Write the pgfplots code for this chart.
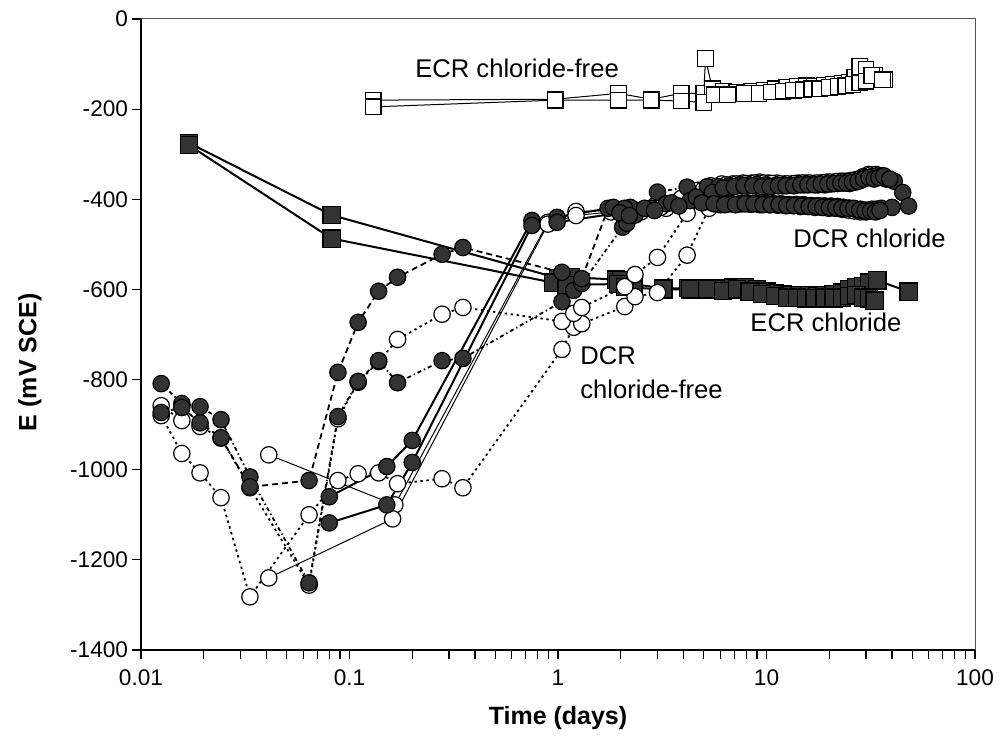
\documentclass[border=0pt]{standalone}
\usepackage{fontspec}
\setmainfont{Liberation Sans}
\usepackage{pgfplots}
\pgfplotsset{compat=1.18}
\definecolor{fillgray}{HTML}{333333}
\definecolor{framegray}{HTML}{555555}

\pgfplotsset{
  fcirc/.style={mark=*, mark size=4.1pt, mark options={fill=fillgray, draw=black, line width=0.6pt, solid}},
  ocirc/.style={mark=*, mark size=4.1pt, mark options={fill=white, draw=black, line width=0.6pt, solid}},
  fsq/.style={mark=square*, mark size=4.3pt, mark options={fill=fillgray, draw=black, line width=0.6pt, solid}},
  osq/.style={mark=square*, mark size=3.9pt, mark options={fill=white, draw=black, line width=0.6pt, solid}},
}

\begin{document}
\begin{tikzpicture}
\useasboundingbox (-70.5pt,-50.5pt) rectangle (432pt,325pt);
\begin{axis}[
  at={(0pt,0pt)}, anchor=south west,
  scale only axis, width=417pt, height=315.5pt,
  xmode=log, xmin=0.01, xmax=100, ymin=-1400, ymax=0,
  axis x line*=bottom, axis y line*=left,
  axis line style={-, black, line width=0.7pt},
  clip=false,
  tick align=outside,
  major tick length=4.5pt, minor tick length=4.5pt,
  tick style={black, line width=0.6pt},
  xtick={0.01,0.1,1,10,100},
  xticklabels={0.01,0.1,1,10,100},
  ytick={-1400,-1200,-1000,-800,-600,-400,-200,0},
  yticklabels={-1400,-1200,-1000,-800,-600,-400,-200,0},
  ticklabel style={font=\fontsize{11.3}{13}\selectfont},
  xticklabel style={yshift=-2pt},
  yticklabel style={xshift=1.5pt},
  xlabel={Time (days)},
  ylabel={E (mV SCE)},
  xlabel style={font=\bfseries\fontsize{12.5}{14}\selectfont, at={(axis description cs:0.5,-0.1078)}, anchor=center},
  ylabel style={font=\bfseries\fontsize{12.5}{14}\selectfont, at={(axis description cs:-0.1331,0.456)}, anchor=center},
]
\draw[framegray, line width=0.5pt] (rel axis cs:0,1) -- (rel axis cs:1,1) -- (rel axis cs:1,0);

% ECR chloride-free (open squares, thin solid)
\addplot[black, line width=0.5pt, osq] coordinates {
(0.13,-180) (0.97,-178) (1.95,-165) (2.8,-178) (3.9,-165) (5.0,-165) (5.1,-88) (5.5,-155) (6.2,-160) (7.2,-162) (8.5,-160) (9.8,-158) (11,-155) (12.5,-152) (14,-150) (15.5,-148) (17,-150) (19,-147) (21,-145) (23,-143) (25,-140) (26.5,-130) (28,-105) (30,-112) (33,-125) (37,-135)
};
\addplot[black, line width=0.5pt, osq] coordinates {
(0.13,-195) (0.97,-180) (1.95,-180) (2.8,-180) (3.9,-182) (5.0,-185) (5.6,-168) (6.5,-168) (7.8,-165) (9.2,-165) (10.5,-162) (12,-160) (13.5,-158) (15,-157) (16.5,-155) (18,-155) (20,-152) (22,-150) (24,-148) (26,-145) (28,-142) (30,-138) (32,-125) (36,-135)
};

% ECR chloride (filled squares, thick solid)
\addplot[black, line width=1pt, fsq] coordinates {
(0.017,-275) (0.082,-435) (1.0,-575) (1.15,-573) (1.9,-578) (2.0,-580) (2.3,-588) (3.2,-598) (4.2,-597) (5.0,-598) (5.9,-598) (6.9,-596) (7.9,-595) (9.0,-600) (10,-605) (11,-608) (12,-610) (13,-612) (14.5,-612) (16,-612) (17.5,-614) (19,-612) (21,-610) (23,-607) (25,-600) (27,-595) (29,-592) (31,-585) (34,-580) (48,-605)
};
\addplot[black, line width=1pt, fsq] coordinates {
(0.017,-280) (0.082,-487) (0.95,-585) (1.1,-590) (1.95,-588) (2.1,-595) (3.2,-600) (4.3,-600) (5.2,-600) (6.2,-603) (7.2,-600) (8.3,-605) (9.5,-610) (11,-615) (12.5,-618) (14,-618) (15.5,-620) (17,-620) (19,-618) (21,-620) (23,-618) (25,-615) (27,-612) (29,-618) (31,-620) (33,-625)
};

% open circles, thin solid
\addplot[black, line width=0.5pt, ocirc] coordinates {
(0.041,-967) (0.165,-1078) (0.895,-451) (1.22,-427) (1.9,-425) (2.5,-428) (3.3,-420) (4.2,-410) (5.0,-405) (5.7,-400) (6.5,-405) (7.3,-405) (8.1,-408) (8.9,-408) (9.8,-408) (10.7,-410) (11.7,-410) (12.7,-412) (13.8,-412) (15,-412) (16.2,-414) (17.5,-415) (18.9,-415) (20.3,-416) (21.8,-418) (23.3,-418) (24.9,-420) (26.5,-422) (28.2,-422) (30,-424) (32,-422)
};
\addplot[black, line width=0.5pt, ocirc] coordinates {
(0.041,-1240) (0.161,-1109) (0.895,-455) (1.22,-436) (1.8,-428) (2.4,-425) (3.1,-418) (3.9,-398) (4.7,-380) (5.4,-370) (6.1,-366) (6.9,-366) (7.7,-364) (8.5,-364) (9.3,-362) (10.2,-364) (11.2,-364) (12.2,-366) (13.2,-366) (14.3,-364) (15.5,-364) (16.8,-365) (18.1,-364) (19.5,-362) (21,-362) (22.5,-360) (24,-360) (25.6,-358) (27.2,-356) (29,-350) (30.8,-345) (32.6,-346) (34.5,-350)
};

% DCR chloride-free (open circles, dotted)
\addplot[black, line width=0.9pt, dash pattern=on 1.2pt off 1.8pt, ocirc] coordinates {
(0.0125,-880) (0.0157,-964) (0.0192,-1007) (0.0242,-1062) (0.0333,-1282) (0.064,-1100) (0.088,-1024) (0.11,-1009) (0.138,-1007) (0.17,-1031) (0.278,-1020) (0.35,-1040) (1.045,-733) (1.19,-684) (1.3,-676) (2.09,-638) (2.34,-616) (3.0,-607) (4.16,-524) (5.3,-420) (6.0,-412) (6.8,-410) (7.6,-410) (8.4,-411) (9.3,-412) (10.3,-412) (11.3,-413) (12.3,-414) (13.4,-414) (14.6,-416) (15.8,-416) (17.1,-418) (18.5,-418) (19.9,-420) (21.4,-420) (23,-422) (24.7,-424) (26.4,-426) (28.2,-428) (30,-428) (32,-426) (34,-424)
};
\addplot[black, line width=0.9pt, dash pattern=on 1.2pt off 1.8pt, ocirc] coordinates {
(0.0125,-858) (0.0157,-891) (0.0192,-904) (0.0242,-930) (0.0333,-1040) (0.064,-1256) (0.088,-887) (0.11,-806) (0.138,-760) (0.17,-711) (0.278,-655) (0.35,-640) (1.045,-671) (1.19,-653) (1.3,-640) (2.09,-594) (2.34,-567) (3.0,-529) (4.16,-431) (5.0,-378) (5.7,-372) (6.4,-368) (7.2,-366) (8.0,-365) (8.8,-364) (9.7,-364) (10.6,-365) (11.6,-366) (12.6,-366) (13.7,-365) (14.9,-364) (16.1,-364) (17.4,-364) (18.8,-363) (20.2,-362) (21.7,-361) (23.2,-360) (24.8,-360) (26.4,-358) (28,-355) (29.8,-350) (31.6,-346) (33.5,-345) (35.5,-348)
};

% DCR chloride (filled circles, dotted/dashed)
\addplot[black, line width=0.9pt, dash pattern=on 2pt off 1.5pt on 0.7pt off 1.5pt, fcirc] coordinates {
(0.0125,-809) (0.0157,-853) (0.0192,-860) (0.0242,-889) (0.0333,-1016) (0.064,-1251) (0.088,-882) (0.11,-804) (0.138,-758) (0.17,-807) (0.278,-758) (0.35,-753) (1.045,-627) (1.19,-602) (1.3,-587) (2.04,-462) (2.14,-453) (2.34,-435) (3.0,-384) (4.16,-373) (5.2,-372) (5.9,-372) (6.6,-370) (7.4,-368) (8.2,-368) (9.0,-367) (9.9,-368) (10.9,-370) (11.9,-370) (12.9,-369) (14,-368) (15.2,-368) (16.4,-367) (17.7,-368) (19,-368) (20.4,-366) (21.9,-365) (23.4,-364) (25,-365) (26.6,-362) (28.3,-358) (30,-352) (31.8,-350) (33.6,-348) (35.5,-350) (37.5,-355) (41,-360) (45,-385)
};
\addplot[black, line width=0.9pt, dash pattern=on 3pt off 2pt, fcirc] coordinates {
(0.0125,-873) (0.0157,-862) (0.0192,-896) (0.0242,-929) (0.0333,-1038) (0.064,-1024) (0.088,-784) (0.11,-673) (0.138,-604) (0.17,-573) (0.278,-522) (0.35,-507) (1.045,-562) (1.3,-576) (1.74,-420) (1.98,-424) (2.22,-418) (2.82,-420) (3.3,-410) (4.3,-403) (5.2,-405) (5.9,-408) (6.6,-410) (7.4,-410) (8.2,-410) (9.0,-410) (9.9,-410) (10.9,-410) (11.9,-411) (12.9,-412) (14,-412) (15.2,-413) (16.4,-414) (17.7,-414) (19,-415) (20.4,-415) (21.9,-416) (23.4,-418) (25,-420) (26.6,-422) (28.3,-425) (30,-426) (31.8,-425) (33.6,-422) (35.5,-420) (40,-418) (48,-415)
};

% filled circles, thick solid
\addplot[black, line width=1pt, fcirc] coordinates {
(0.08,-1060) (0.151,-993) (0.2,-935) (0.75,-447) (0.99,-440) (1.84,-418) (2.09,-420) (2.6,-420) (3.5,-408) (4.6,-395) (5.5,-385) (6.2,-375) (7.0,-372) (7.8,-370) (8.6,-370) (9.5,-372) (10.4,-372) (11.4,-370) (12.4,-370) (13.5,-370) (14.6,-368) (15.8,-368) (17,-368) (18.3,-366) (19.7,-366) (21.2,-365) (22.7,-364) (24.2,-364) (25.8,-362) (27.5,-360) (29.2,-355) (31,-352) (32.8,-355) (34.6,-352) (36.5,-348) (39,-355)
};
\addplot[black, line width=1pt, fcirc] coordinates {
(0.08,-1118) (0.151,-1078) (0.2,-984) (0.75,-458) (0.99,-451) (1.98,-430) (2.2,-436) (2.9,-425) (3.8,-415) (4.9,-408) (5.6,-410) (6.3,-412) (7.1,-412) (7.9,-410) (8.7,-410) (9.6,-412) (10.5,-412) (11.5,-412) (12.5,-414) (13.6,-414) (14.8,-415) (16,-416) (17.3,-416) (18.6,-418) (20,-418) (21.5,-418) (23,-420) (24.6,-420) (26.2,-420) (28,-424) (29.7,-426) (31.5,-426) (33.3,-428) (35,-425)
};

\node[anchor=west, inner sep=0pt, font=\fontsize{12.8}{15}\selectfont] at (axis cs:0.206,-109) {ECR chloride-free};
\node[anchor=west, inner sep=0pt, font=\fontsize{12.8}{15}\selectfont] at (axis cs:13.4,-487) {DCR chloride};
\node[anchor=west, inner sep=0pt, font=\fontsize{12.8}{15}\selectfont] at (axis cs:8.34,-673) {ECR chloride};
\node[anchor=west, inner sep=0pt, font=\fontsize{12.8}{15}\selectfont] at (axis cs:1.275,-747) {DCR};
\node[anchor=west, inner sep=0pt, font=\fontsize{12.8}{15}\selectfont] at (axis cs:1.275,-822) {chloride-free};
\end{axis}
\end{tikzpicture}
\end{document}
